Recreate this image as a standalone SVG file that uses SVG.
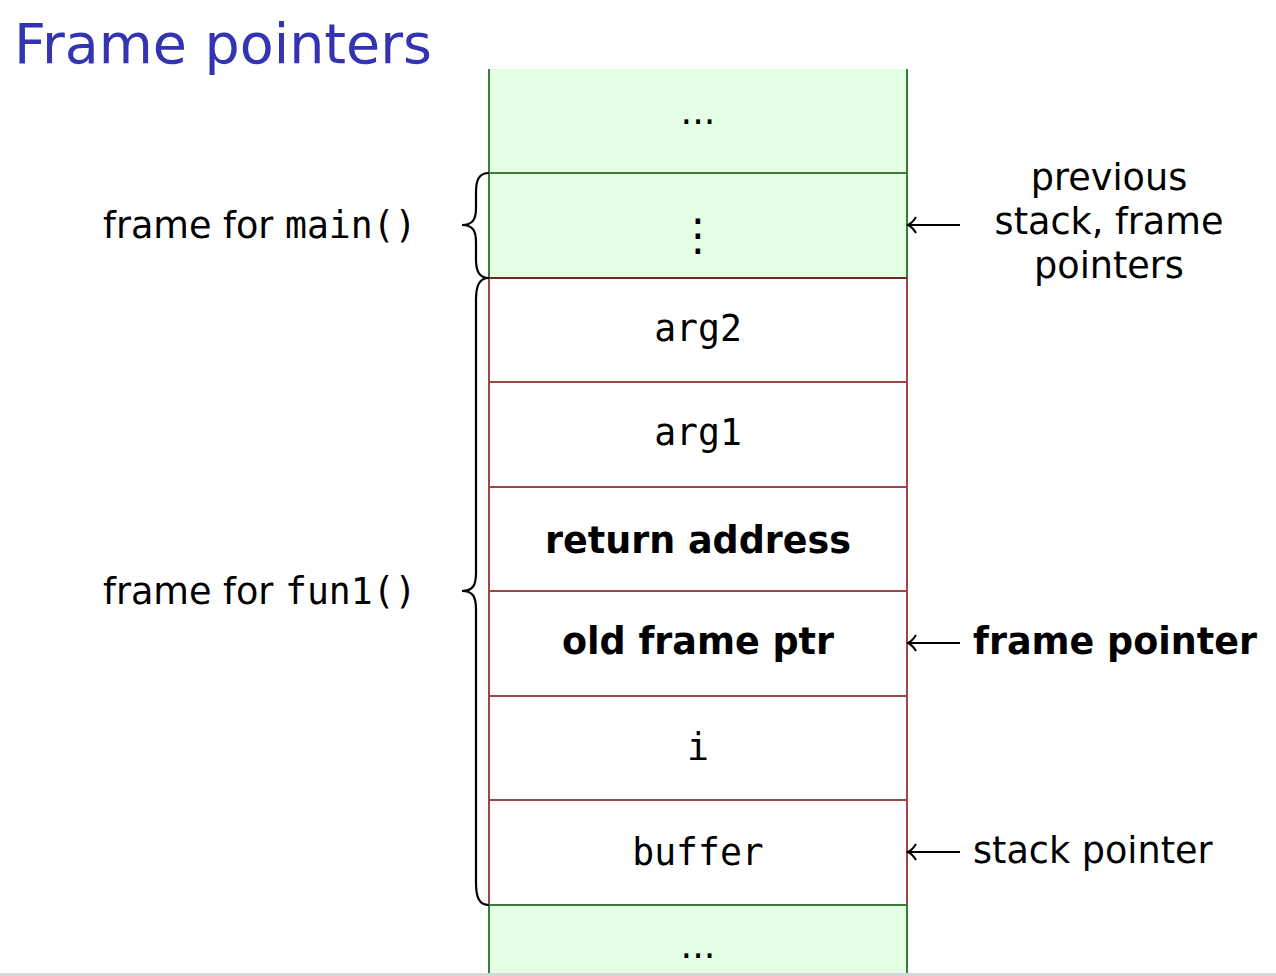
<svg xmlns="http://www.w3.org/2000/svg" width="1276" height="976" viewBox="0 0 1276 976">
<style>
.t{font-family:"DejaVu Sans",sans-serif;font-size:36.6px;fill:#000}
.m{font-family:"DejaVu Sans Mono",monospace;font-size:36.4px;fill:#000}
.b{font-family:"DejaVu Sans",sans-serif;font-size:36.5px;font-weight:bold;fill:#000}
.g{fill:#e5ffe5;stroke:none}
.gl{stroke:#3a7a3a;stroke-width:2;fill:none}
.rl{stroke:#a04545;stroke-width:2;fill:none}
.br{stroke:#000;stroke-width:2.2;fill:none}
.ar{stroke:#000;stroke-width:2;fill:none}
</style>
<rect x="0" y="0" width="1276" height="976" fill="#fff"/>
<text x="14" y="63" style="font-family:'DejaVu Sans',sans-serif;font-size:55.5px;fill:#3333b3">Frame pointers</text>
<g id="cell-top">
<rect class="g" x="489" y="69" width="418" height="104"/>
<path class="gl" d="M489,69 V173 M907,69 V173"/>
<text class="t" x="698" y="124" text-anchor="middle">...</text>
</g>
<g id="cell-main">
<rect class="g" x="489" y="173" width="418" height="105"/>
<path class="gl" d="M489,173 H907 M489,173 V278 M907,173 V278"/>
<text x="698" y="250" text-anchor="middle" style="font-family:'DejaVu Sans',sans-serif;font-size:44px;fill:#000">⋮</text>
</g>
<g id="cell-arg2">
<path class="rl" d="M489,278 V382 M907,278 V382 M489,382 H907"/>
<text class="m" x="698" y="341" text-anchor="middle">arg2</text>
</g>
<g id="cell-arg1">
<path class="rl" d="M489,382 V487 M907,382 V487 M489,487 H907"/>
<text class="m" x="698" y="445" text-anchor="middle">arg1</text>
</g>
<g id="cell-ret">
<path class="rl" d="M489,487 V591 M907,487 V591 M489,591 H907"/>
<text class="b" x="698" y="553" text-anchor="middle">return address</text>
</g>
<g id="cell-oldfp">
<path class="rl" d="M489,591 V696 M907,591 V696 M489,696 H907"/>
<text class="b" x="698" y="654" text-anchor="middle">old frame ptr</text>
</g>
<g id="cell-i">
<path class="rl" d="M489,696 V800 M907,696 V800 M489,800 H907"/>
<text class="m" x="698" y="760" text-anchor="middle">i</text>
</g>
<g id="cell-buffer">
<path class="rl" d="M489,800 V905 M907,800 V905"/>
<text class="m" x="698" y="865" text-anchor="middle">buffer</text>
</g>
<g id="cell-bottom">
<rect class="g" x="489" y="905" width="418" height="68"/>
<path class="gl" d="M489,905 H907 M489,905 V973 M907,905 V973"/>
<text class="t" x="698" y="958" text-anchor="middle">...</text>
</g>
<path d="M489,278 H907" stroke="#6a2a1a" stroke-width="2.2"/>
<g id="label-main">
<text class="t" x="103" y="238">frame for <tspan class="m">main()</tspan></text>
<path class="br" d="M489,173 C479,173 476,180 476,192 L476,208 C476,219 473,225 462,225 C473,225 476,231 476,242 L476,259 C476,271 479,278 489,278"/>
</g>
<g id="label-fun1">
<text class="t" x="103" y="604">frame for <tspan class="m">fun1()</tspan></text>
<path class="br" d="M489,278 C479,278 476,286 476,300 L476,573 C476,585 473,591 462,591 C473,591 476,597 476,609 L476,883 C476,897 479,905 489,905"/>
</g>
<g id="connectors">
<path class="ar" d="M909,225 H960 M916,217 C913,222 910,224 908,225 C910,226 913,228 916,233"/>
<path class="ar" d="M909,643 H960 M916,635 C913,640 910,642 908,643 C910,644 913,646 916,651"/>
<path class="ar" d="M909,852 H960 M916,844 C913,849 910,851 908,852 C910,853 913,855 916,860"/>
</g>
<g id="label-prev">
<text class="t" x="1109" y="190" text-anchor="middle">previous</text>
<text class="t" x="1109" y="234" text-anchor="middle">stack, frame</text>
<text class="t" x="1109" y="278" text-anchor="middle">pointers</text>
</g>
<g id="label-fp"><text class="b" x="973" y="654">frame pointer</text></g>
<g id="label-sp"><text class="t" x="973" y="863">stack pointer</text></g>
<rect x="0" y="973" width="1276" height="3" fill="#d6d6d6"/>
</svg>
